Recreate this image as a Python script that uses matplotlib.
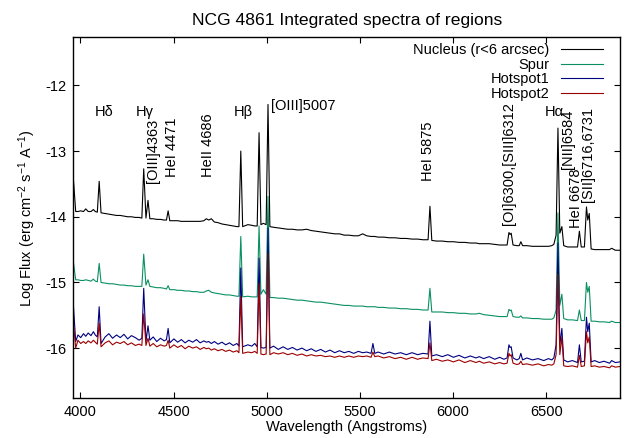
import matplotlib
matplotlib.use("Agg")
import matplotlib.pyplot as plt

plt.rcParams["font.family"] = ["Liberation Sans", "DejaVu Sans"]
plt.rcParams["font.size"] = 10.5
plt.rcParams["axes.unicode_minus"] = False
plt.rcParams["mathtext.default"] = "regular"

# rest-frame wavelength grid (Angstrom), shared by all four spectra
wavelength = [
    3963, 3975, 3987, 4002, 4017, 4029, 4042, 4057, 4070, 4080, 4091, 4101, 4111,
    4133, 4153, 4173, 4194, 4214, 4234, 4254, 4274, 4295, 4315, 4330, 4340, 4352, 4363, 4373,
    4391, 4410, 4430, 4450, 4462, 4471, 4480,
    4502, 4522, 4542, 4562, 4582, 4603, 4623, 4643, 4663, 4676, 4689, 4703, 4719, 4739, 4760,
    4780, 4800, 4820, 4840, 4851, 4861, 4871,
    4899, 4920, 4936, 4949, 4959, 4969, 4982, 4997, 5007, 5017,
    5037, 5062, 5088, 5113, 5138, 5163, 5189, 5214, 5239, 5264, 5290, 5315, 5340, 5365, 5391,
    5416, 5441, 5467, 5492, 5515, 5537, 5560, 5570, 5580,
    5598, 5628, 5658, 5689, 5719, 5749, 5780, 5810, 5838, 5866, 5876, 5886,
    5911, 5942, 5972, 6002, 6032, 6063, 6093, 6123, 6141, 6164, 6194, 6224, 6250, 6273, 6290,
    6300, 6306, 6312, 6322, 6343, 6355, 6364, 6373,
    6396, 6426, 6456, 6487, 6512, 6530, 6541, 6553, 6563, 6573, 6584, 6594,
    6615, 6640, 6668, 6678, 6688, 6705, 6716, 6723, 6731, 6741, 6760, 6785, 6810, 6840, 6851,
    6871, 6896,
]

# log flux, erg cm^-2 s^-1 A^-1
nucleus = [
    -13.44, -13.92, -13.92, -13.91, -13.92, -13.88, -13.92, -13.92, -13.89, -13.92, -13.93, -13.46, -13.94,
    -13.95, -13.96, -13.97, -13.98, -13.98, -13.99, -14.00, -14.00, -14.01, -14.01, -14.02, -13.27, -14.02, -13.75, -14.03,
    -14.03, -14.04, -14.04, -14.05, -14.05, -13.91, -14.06,
    -14.06, -14.06, -14.07, -14.07, -14.07, -14.07, -14.07, -14.07, -14.06, -14.03, -14.05, -14.03, -14.08, -14.09, -14.11,
    -14.12, -14.13, -14.14, -14.15, -14.15, -13.00, -14.15,
    -14.12, -14.13, -14.14, -14.14, -12.72, -14.12, -14.10, -14.12, -12.29, -14.15,
    -14.16, -14.17, -14.18, -14.19, -14.19, -14.20, -14.20, -14.19, -14.21, -14.22, -14.23, -14.24, -14.25, -14.26, -14.26,
    -14.28, -14.28, -14.29, -14.29, -14.26, -14.29, -14.30, -14.30, -14.30,
    -14.31, -14.31, -14.32, -14.32, -14.33, -14.33, -14.34, -14.34, -14.35, -14.35, -13.84, -14.36,
    -14.37, -14.37, -14.38, -14.38, -14.39, -14.39, -14.40, -14.40, -14.41, -14.41, -14.41, -14.42, -14.43, -14.43, -14.43,
    -14.24, -14.27, -14.25, -14.43, -14.44, -14.44, -14.38, -14.44,
    -14.44, -14.45, -14.45, -14.45, -14.45, -14.44, -14.42, -14.28, -12.65, -14.25, -14.15, -14.44,
    -14.46, -14.46, -14.46, -14.22, -14.46, -14.46, -13.85, -14.05, -13.95, -14.49, -14.50, -14.50, -14.50, -14.50, -14.48,
    -14.51, -14.51,
]

spur = [
    -14.70, -14.96, -14.96, -14.97, -14.97, -14.96, -14.97, -14.98, -14.95, -14.98, -14.99, -14.71, -15.00,
    -15.01, -15.02, -15.02, -15.03, -15.04, -15.04, -15.05, -15.05, -15.06, -15.06, -15.06, -14.57, -15.04, -14.96, -15.06,
    -15.07, -15.08, -15.08, -15.09, -15.10, -15.05, -15.11,
    -15.11, -15.12, -15.12, -15.13, -15.13, -15.14, -15.14, -15.15, -15.15, -15.13, -15.12, -15.15, -15.16, -15.17, -15.18,
    -15.19, -15.19, -15.20, -15.21, -15.21, -14.30, -15.22,
    -15.21, -15.22, -15.22, -15.22, -14.14, -15.18, -15.11, -15.18, -13.69, -15.23,
    -15.23, -15.24, -15.24, -15.25, -15.26, -15.27, -15.27, -15.28, -15.29, -15.30, -15.30, -15.31, -15.32, -15.33, -15.34,
    -15.35, -15.35, -15.36, -15.36, -15.36, -15.37, -15.37, -15.37, -15.37,
    -15.38, -15.38, -15.39, -15.39, -15.40, -15.40, -15.41, -15.41, -15.42, -15.42, -15.09, -15.45,
    -15.45, -15.45, -15.46, -15.46, -15.47, -15.47, -15.48, -15.48, -15.47, -15.49, -15.50, -15.51, -15.52, -15.52, -15.52,
    -15.41, -15.43, -15.42, -15.52, -15.53, -15.53, -15.51, -15.54,
    -15.54, -15.55, -15.55, -15.56, -15.56, -15.56, -15.54, -15.42, -13.94, -15.35, -15.18, -15.55,
    -15.57, -15.57, -15.58, -15.42, -15.58, -15.58, -15.00, -15.15, -15.06, -15.59, -15.59, -15.60, -15.60, -15.61, -15.59,
    -15.61, -15.61,
]

hotspot1 = [
    -15.37, -15.90, -15.80, -15.84, -15.78, -15.82, -15.77, -15.81, -15.75, -15.80, -15.83, -15.37, -15.93,
    -15.83, -15.78, -15.85, -15.80, -15.84, -15.79, -15.86, -15.81, -15.84, -15.88, -15.85, -15.09, -15.90, -15.66, -15.88,
    -15.83, -15.90, -15.85, -15.89, -15.87, -15.70, -15.92,
    -15.86, -15.91, -15.87, -15.92, -15.88, -15.91, -15.87, -15.92, -15.89, -15.91, -15.90, -15.93, -15.90, -15.94, -15.91,
    -15.95, -15.92, -15.96, -15.93, -15.97, -14.78, -15.98,
    -15.95, -15.97, -15.93, -15.98, -14.63, -15.99, -16.00, -15.99, -14.17, -16.00,
    -15.97, -16.02, -15.98, -16.02, -15.99, -16.03, -16.00, -16.04, -16.01, -16.05, -16.02, -16.06, -16.03, -16.07, -16.04,
    -16.07, -16.05, -16.08, -16.05, -16.07, -16.06, -16.08, -15.93, -16.08,
    -16.06, -16.09, -16.06, -16.09, -16.07, -16.10, -16.07, -16.10, -16.08, -16.09, -15.59, -16.12,
    -16.10, -16.13, -16.10, -16.14, -16.11, -16.15, -16.12, -16.15, -16.13, -16.16, -16.13, -16.17, -16.14, -16.17, -16.15,
    -15.95, -15.99, -15.98, -16.15, -16.18, -16.16, -16.08, -16.18,
    -16.15, -16.18, -16.16, -16.19, -16.16, -16.18, -16.15, -15.95, -14.40, -15.95, -15.70, -16.18,
    -16.21, -16.19, -16.22, -15.95, -16.21, -16.20, -15.53, -15.75, -15.62, -16.21, -16.19, -16.22, -16.20, -16.23, -16.19,
    -16.22, -16.21,
]

hotspot2 = [
    -15.62, -16.00, -15.88, -15.93, -15.90, -15.93, -15.89, -15.92, -15.88, -15.91, -15.94, -15.62, -15.98,
    -15.92, -15.89, -15.95, -15.91, -15.93, -15.90, -15.95, -15.92, -15.96, -15.94, -15.96, -15.48, -15.96, -15.85, -15.97,
    -15.93, -15.98, -15.95, -15.97, -15.96, -15.88, -16.00,
    -15.95, -15.99, -15.96, -16.01, -15.97, -16.00, -15.98, -16.02, -15.99, -16.01, -16.00, -16.03, -16.01, -16.04, -16.02,
    -16.05, -16.03, -16.06, -16.04, -16.07, -15.21, -16.08,
    -16.06, -16.07, -16.05, -16.08, -15.01, -16.09, -16.10, -16.09, -14.56, -16.10,
    -16.07, -16.09, -16.07, -16.10, -16.08, -16.11, -16.09, -16.12, -16.10, -16.12, -16.11, -16.13, -16.12, -16.14, -16.12,
    -16.14, -16.12, -16.14, -16.12, -16.13, -16.12, -16.14, -16.06, -16.13,
    -16.12, -16.15, -16.13, -16.16, -16.14, -16.17, -16.14, -16.17, -16.15, -16.16, -15.92, -16.19,
    -16.17, -16.20, -16.18, -16.21, -16.18, -16.22, -16.19, -16.22, -16.20, -16.23, -16.21, -16.24, -16.22, -16.24, -16.23,
    -16.08, -16.12, -16.10, -16.23, -16.25, -16.24, -16.20, -16.25,
    -16.24, -16.26, -16.24, -16.27, -16.25, -16.26, -16.24, -16.10, -14.87, -16.10, -15.83, -16.27,
    -16.28, -16.27, -16.29, -16.11, -16.28, -16.27, -15.75, -15.92, -15.83, -16.28, -16.27, -16.29, -16.28, -16.30, -16.27,
    -16.29, -16.28,
]

series_names = ["Nucleus (r<6 arcsec)", "Spur", "Hotspot1", "Hotspot2"]
series_colors = ["#000000", "#0a9060", "#000080", "#9b0000"]

# emission line identifications: text, x, y, rotation, ha, va
line_ids = [
    ("H\u03b4", 4127, -12.41, 0, "center", "center"),
    ("H\u03b3", 4346, -12.41, 0, "center", "center"),
    ("[OIII]4363", 4388, -13.48, 90, "center", "bottom"),
    ("HeI 4471", 4490, -13.39, 90, "center", "bottom"),
    ("HeII 4686", 4684, -13.39, 90, "center", "bottom"),
    ("H\u03b2", 4877, -12.41, 0, "center", "center"),
    ("[OIII]5007", 5025, -12.31, 0, "left", "center"),
    ("HeI 5875", 5867, -13.46, 90, "center", "bottom"),
    ("[OI]6300,[SIII]6312", 6302, -14.12, 90, "center", "bottom"),
    ("H\u03b1", 6541, -12.40, 0, "center", "center"),
    ("[NII]6584", 6617, -13.28, 90, "center", "bottom"),
    ("HeI 6678", 6661, -14.17, 90, "center", "bottom"),
    ("[SII]6716,6731", 6725, -13.77, 90, "center", "bottom"),
]

fig = plt.figure(figsize=(6.29, 4.38), dpi=100)
ax = fig.add_axes([0.1165, 0.0913, 0.8692, 0.8231])

for flux, name, col in zip([nucleus, spur, hotspot1, hotspot2], series_names, series_colors):
    ax.plot(wavelength, flux, color=col, lw=0.8, label=name)

for text, x, y, rot, ha, va in line_ids:
    ax.text(x, y, text, rotation=rot, ha=ha, va=va)

ax.set_xlim(3962, 6896)
ax.set_ylim(-16.76, -11.27)
ax.set_xticks([4000, 4500, 5000, 5500, 6000, 6500])
ax.set_yticks([-16, -15, -14, -13, -12])
ax.tick_params(direction="in", top=True, right=True, length=4.5, width=0.8, pad=5)
for sp in ax.spines.values():
    sp.set_linewidth(1.0)

ax.set_xlabel("Wavelength (Angstroms)", labelpad=1)
ax.set_ylabel("Log Flux (erg cm$^{-2}$ s$^{-1}$ A$^{-1}$)", labelpad=5)
ax.set_title("NCG 4861 Integrated spectra of regions", pad=9)

ax.legend(loc="upper right", bbox_to_anchor=(0.969, 0.985), frameon=False,
          markerfirst=False, handlelength=2.9, handletextpad=0.8,
          labelspacing=0.05, borderpad=0, borderaxespad=0)

fig.savefig("out.png", dpi=100)
